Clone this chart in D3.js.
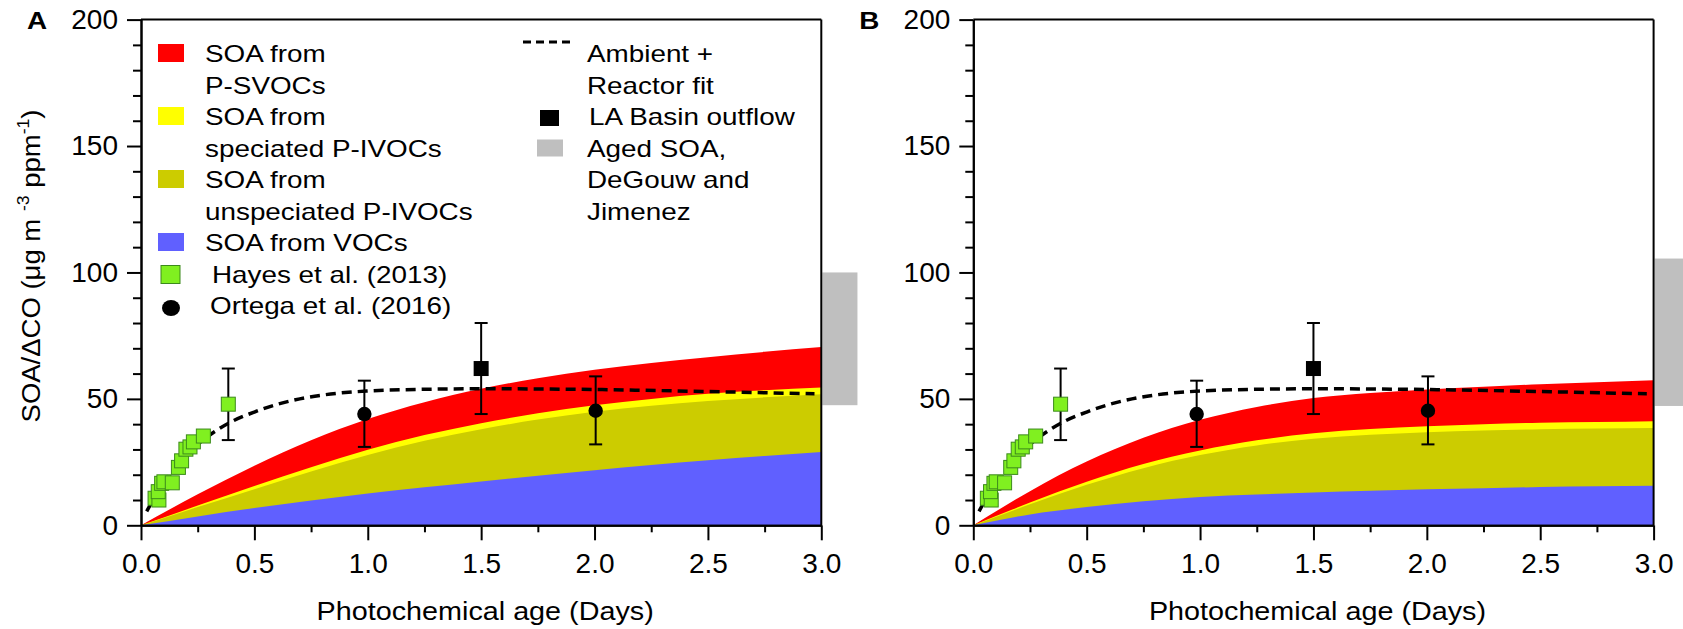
<!DOCTYPE html>
<html>
<head>
<meta charset="utf-8">
<script src="https://cdn.jsdelivr.net/npm/d3@7"></script>
<style>
  body { margin: 0; background: #fff; }
  text { font-family: "Liberation Sans", Arial, sans-serif; fill: #000; }
</style>
</head>
<body>
<svg id="chart" width="1683" height="629"></svg>
<script>
// photochemical age grid (days) for the modelled SOA bands
const days = [0, 0.25, 0.5, 0.75, 1, 1.25, 1.5, 1.75, 2, 2.25, 2.5, 2.75, 3];

// cumulative top of each stacked band, panel A
const vocTopA    = [0, 3.5, 6.8, 9.8, 12.6, 15.0, 17.3, 19.6, 21.8, 23.8, 25.7, 27.4, 29.0];
const unspecTopA = [0, 7.2, 14.3, 21.3, 27.8, 33.4, 38.0, 41.8, 44.9, 47.3, 49.2, 50.6, 51.8];
const specTopA   = [0, 7.8, 15.5, 23.0, 29.9, 35.7, 40.4, 44.3, 47.5, 50.0, 52.0, 53.4, 54.5];
const svocTopA   = [0, 12.3, 23.6, 33.6, 42.0, 48.7, 54.0, 58.2, 61.5, 64.2, 66.5, 68.6, 70.5];

// panel B
const vocTopB    = [0, 4.3, 7.2, 9.5, 11.2, 12.2, 13.0, 13.7, 14.3, 14.7, 15.1, 15.4, 15.6];
const unspecTopB = [0, 8.3, 16.0, 22.6, 27.8, 31.6, 34.2, 35.8, 36.8, 37.5, 38.0, 38.3, 38.5];
const specTopB   = [0, 9.0, 17.2, 24.2, 29.6, 33.6, 36.4, 38.1, 39.2, 40.0, 40.6, 40.9, 41.2];
const svocTopB   = [0, 13.5, 25.2, 34.6, 41.7, 46.8, 50.3, 52.3, 53.7, 54.8, 55.8, 56.6, 57.4];

// ambient + reactor fit
const fitDays = [0.025, 0.05, 0.1, 0.15, 0.2, 0.25, 0.3, 0.4, 0.5, 0.6, 0.7, 0.8, 0.9, 1.0, 1.25, 1.5, 2.0, 2.5, 2.97];
const fitVals = [5.5, 9.5, 16.5, 22.5, 27.8, 32.0, 35.5, 41.0, 44.8, 47.8, 50.0, 51.5, 52.5, 53.1, 53.8, 54.0, 53.7, 52.9, 52.0];

// Hayes et al. (2013)
const hayesDays = [0.062, 0.079, 0.076, 0.091, 0.101, 0.138, 0.165, 0.179, 0.198, 0.216, 0.231, 0.275, 0.385];
const hayesVals = [10.7, 10.0, 13.3, 16.6, 17.2, 16.8, 22.9, 25.5, 30.1, 31.0, 33.0, 35.3, 47.9];
const hayesErrLo = [null, null, null, null, null, null, null, null, null, null, null, null, 33.7];
const hayesErrHi = [null, null, null, null, null, null, null, null, null, null, null, null, 62.0];

// Ortega et al. (2016)
const ortegaDays = [0.985, 2.005];
const ortegaVals = [44.0, 45.3];
const ortegaLo = [31.0, 32.0];
const ortegaHi = [57.2, 58.9];

// LA Basin outflow
const laDays = [1.5];
const laVals = [62];
const laLo = [44];
const laHi = [80];

// aged SOA range (DeGouw and Jimenez), drawn just past the axis end
const agedDays = [3.0, 3.155];
const agedA = [47.5, 100];
const agedB = [47.2, 105.5];

const xTicks = [0, 0.5, 1, 1.5, 2, 2.5, 3];
const xMinor = [0.25, 0.75, 1.25, 1.75, 2.25, 2.75];
const yTicks = [0, 50, 100, 150, 200];
const yMinor = d3.range(10, 200, 10).filter(v => v % 50);

const colors = { svoc: '#ff0000', spec: '#ffff00', unspec: '#cccc00', voc: '#6060ff', hayes: '#80f020', aged: '#bfbfbf' };

const svg = d3.select('#chart');
const plotW = 680.3, yBottom = 525.3, yTop = 19.6;
const stretch = 1.16; // the figure's text is set a little wide

const putText = (g, x, y, str, size, opts = {}) => g.append('text')
  .attr('transform', `translate(${x},${y}) scale(${opts.sx || stretch},1)`)
  .attr('font-size', size)
  .attr('font-weight', opts.bold ? 'bold' : null)
  .attr('text-anchor', opts.anchor || 'start')
  .text(str);

function errorBars(g, x, y, ds, lo, hi) {
  ds.forEach((d, i) => {
    if (lo[i] == null) return;
    g.append('line').attr('x1', x(d)).attr('x2', x(d)).attr('y1', y(lo[i])).attr('y2', y(hi[i]));
    [lo[i], hi[i]].forEach(v => g.append('line')
      .attr('x1', x(d) - 6.5).attr('x2', x(d) + 6.5).attr('y1', y(v)).attr('y2', y(v)));
  });
}

function drawPanel(p) {
  const g = svg.append('g');
  const x = d3.scaleLinear().domain([0, 3]).range([p.left, p.left + plotW]);
  const y = d3.scaleLinear().domain([0, 200]).range([yBottom, yTop]);

  g.append('rect')
    .attr('x', x(agedDays[0]) + 1).attr('width', x(agedDays[1]) - x(agedDays[0]))
    .attr('y', y(p.aged[1])).attr('height', y(p.aged[0]) - y(p.aged[1]))
    .attr('fill', colors.aged);

  // bands drawn top-down, each from zero, so no seams show
  const bands = [[p.svoc, colors.svoc], [p.spec, colors.spec], [p.unspec, colors.unspec], [p.voc, colors.voc]];
  const area = d3.area().x(d => x(d[0])).y0(y(0)).y1(d => y(d[1])).curve(d3.curveNatural);
  bands.forEach(([tops, c]) => {
    g.append('path').datum(days.map((d, i) => [d, tops[i]])).attr('fill', c).attr('d', area);
  });

  g.append('path')
    .datum(fitDays.map((d, i) => [d, fitVals[i]]))
    .attr('fill', 'none').attr('stroke', '#000').attr('stroke-width', 3.5)
    .attr('stroke-dasharray', '10,6')
    .attr('d', d3.line().x(d => x(d[0])).y(d => y(d[1])).curve(d3.curveMonotoneX));

  const eb = g.append('g').attr('stroke', '#000').attr('stroke-width', 2);
  errorBars(eb, x, y, hayesDays, hayesErrLo, hayesErrHi);
  errorBars(eb, x, y, ortegaDays, ortegaLo, ortegaHi);
  errorBars(eb, x, y, laDays, laLo, laHi);

  g.selectAll('.hayes').data(hayesDays).join('rect')
    .attr('x', d => x(d) - 7).attr('y', (d, i) => y(hayesVals[i]) - 7)
    .attr('width', 14).attr('height', 14)
    .attr('fill', colors.hayes).attr('stroke', '#3c8a1c').attr('stroke-width', 1);

  g.selectAll('.ortega').data(ortegaDays).join('circle')
    .attr('cx', d => x(d)).attr('cy', (d, i) => y(ortegaVals[i])).attr('r', 7.2).attr('fill', '#000');

  g.selectAll('.la').data(laDays).join('rect')
    .attr('x', d => x(d) - 7.5).attr('y', (d, i) => y(laVals[i]) - 7.5)
    .attr('width', 15).attr('height', 15).attr('fill', '#000');

  // frame and axes
  const frame = g.append('g').attr('stroke', '#000').attr('stroke-width', 2).attr('fill', 'none');
  frame.append('line').attr('x1', x(0)).attr('x2', x(3)).attr('y1', y(200)).attr('y2', y(200));
  frame.append('line').attr('x1', x(3)).attr('x2', x(3)).attr('y1', y(200)).attr('y2', y(0));

  const styleAxis = a => {
    a.selectAll('path, line').attr('stroke', '#000').attr('stroke-width', 2);
    a.selectAll('text').attr('font-size', 28).attr('font-family', '"Liberation Sans", Arial, sans-serif');
  };
  g.append('g').attr('transform', `translate(0,${yBottom})`)
    .call(d3.axisBottom(x).tickValues(xMinor).tickSize(7).tickSizeOuter(0).tickFormat(''))
    .call(styleAxis);
  g.append('g').attr('transform', `translate(0,${yBottom})`)
    .call(d3.axisBottom(x).tickValues(xTicks).tickSize(15).tickSizeOuter(0).tickPadding(13).tickFormat(d3.format('.1f')))
    .call(styleAxis);
  g.append('g').attr('transform', `translate(${x(0)},0)`)
    .call(d3.axisLeft(y).tickValues(yMinor).tickSize(8).tickSizeOuter(0).tickFormat(''))
    .call(styleAxis);
  g.append('g').attr('transform', `translate(${x(0)},0)`)
    .call(d3.axisLeft(y).tickValues(yTicks).tickSize(14).tickSizeOuter(0).tickPadding(9))
    .call(styleAxis);

  putText(g, p.left - 114, 29, p.label, 24, { bold: true });
  putText(g, p.left + plotW / 2 + 4, 620, 'Photochemical age (Days)', 25, { anchor: 'middle', sx: 1.15 });
  return g;
}

drawPanel({ left: 141, label: 'A', voc: vocTopA, unspec: unspecTopA, spec: specTopA, svoc: svocTopA, aged: agedA });
drawPanel({ left: 973.3, label: 'B', voc: vocTopB, unspec: unspecTopB, spec: specTopB, svoc: svocTopB, aged: agedB });

// y axis title (panel A only)
const yTitle = svg.append('text')
  .attr('transform', `translate(40,266) rotate(-90) scale(1.1,1)`)
  .attr('font-size', 25).attr('text-anchor', 'middle');
yTitle.append('tspan').text('SOA/ΔCO (μg m ');
yTitle.append('tspan').attr('font-size', 16).attr('dy', -11).text('-3');
yTitle.append('tspan').attr('dy', 11).text(' ppm');
yTitle.append('tspan').attr('font-size', 16).attr('dy', -11).text('-1');
yTitle.append('tspan').attr('dy', 11).text(')');

// legend
const leg = svg.append('g');
const lh = 31.5, b0 = 62;
const leftEntries = [
  { color: colors.svoc, lines: ['SOA from', 'P-SVOCs'] },
  { color: colors.spec, lines: ['SOA from', 'speciated P-IVOCs'] },
  { color: colors.unspec, lines: ['SOA from', 'unspeciated P-IVOCs'] },
  { color: colors.voc, lines: ['SOA from VOCs'] }
];
let line = 0;
leftEntries.forEach(e => {
  const base = b0 + line * lh;
  leg.append('rect').attr('x', 158).attr('y', base - 18).attr('width', 26).attr('height', 18).attr('fill', e.color);
  e.lines.forEach((t, i) => putText(leg, 205, base + i * lh, t, 24));
  line += e.lines.length;
});
let base = b0 + line * lh;
leg.append('rect').attr('x', 161).attr('y', base - 17).attr('width', 19).attr('height', 18)
  .attr('fill', colors.hayes).attr('stroke', '#3c8a1c').attr('stroke-width', 1);
putText(leg, 212, base, 'Hayes et al. (2013)', 24);
base += lh;
leg.append('ellipse').attr('cx', 171).attr('cy', base - 6).attr('rx', 9).attr('ry', 8).attr('fill', '#000');
putText(leg, 210, base, 'Ortega et al. (2016)', 24);

// right column
leg.append('line').attr('x1', 523).attr('x2', 570).attr('y1', 42).attr('y2', 42)
  .attr('stroke', '#000').attr('stroke-width', 3).attr('stroke-dasharray', '8,5');
putText(leg, 587, b0, 'Ambient +', 24);
putText(leg, 587, b0 + lh, 'Reactor fit', 24);
leg.append('rect').attr('x', 540).attr('y', b0 + 2 * lh - 15).attr('width', 19).attr('height', 16).attr('fill', '#000');
putText(leg, 589, b0 + 2 * lh, 'LA Basin outflow', 24);
leg.append('rect').attr('x', 537).attr('y', b0 + 3 * lh - 17).attr('width', 26).attr('height', 17).attr('fill', colors.aged);
['Aged SOA,', 'DeGouw and', 'Jimenez'].forEach((t, i) => putText(leg, 587, b0 + (3 + i) * lh, t, 24));
</script>
</body>
</html>
